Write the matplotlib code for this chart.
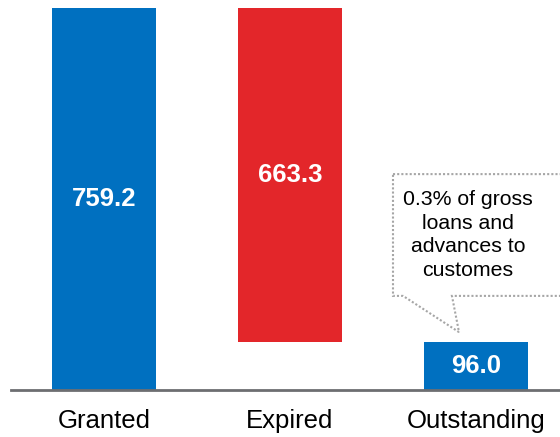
import matplotlib.pyplot as plt
from matplotlib.patches import Polygon

plt.rcParams['font.family'] = ['Liberation Sans', 'DejaVu Sans']

# donnees
categories = ['Granted', 'Expired', 'Outstanding']
granted = 759.2
expired = 663.3
outstanding = 96.0
note = '0.3% of gross\nloans and\nadvances to\ncustomes'

blue = '#0070C0'
red = '#E3262A'

fig = plt.figure(figsize=(5.6, 4.37), dpi=100)
ax = fig.add_axes([11 / 560, 47 / 437, 549 / 560, 390 / 437])

heights = [granted, expired, outstanding]
bottoms = [0, granted - expired, 0]
colors = [blue, red, blue]
bars = ax.bar(range(3), heights, bottom=bottoms, width=0.56, color=colors)

for i, (h, b) in enumerate(zip(heights, bottoms)):
    ax.text(i, b + h / 2, f'{h:.1f}', ha='center', va='center', color='white',
            fontsize=18.5, fontweight='bold')

ax.set_xlim(-0.5, 2.452)
ax.set_ylim(0, 775)
for s in ['top', 'right', 'left']:
    ax.spines[s].set_visible(False)
ax.spines['bottom'].set_color('#6d6e71')
ax.spines['bottom'].set_linewidth(2)
ax.set_yticks([])
ax.set_xticks(range(3))
ax.set_xticklabels(categories, fontsize=18.5)
ax.tick_params(axis='x', length=0, pad=14)

# bulle de commentaire
x0, x1 = 1.554, 2.47
y0, y1 = 187, 429
pts = [(x0, y1), (x1, y1), (x1, y0), (1.871, y0), (1.909, outstanding + 19),
       (1.608, y0), (x0, y0)]
callout = Polygon(pts, closed=True, fill=False, edgecolor='#a6a6a6',
                  linestyle=(0, (1, 1)), linewidth=1.5, clip_on=False)
ax.add_patch(callout)
ax.text(1.956, (y0 + y1) / 2, note, ha='center', va='center', fontsize=15.3,
        linespacing=1.32)

fig.savefig('out.png', dpi=100)
